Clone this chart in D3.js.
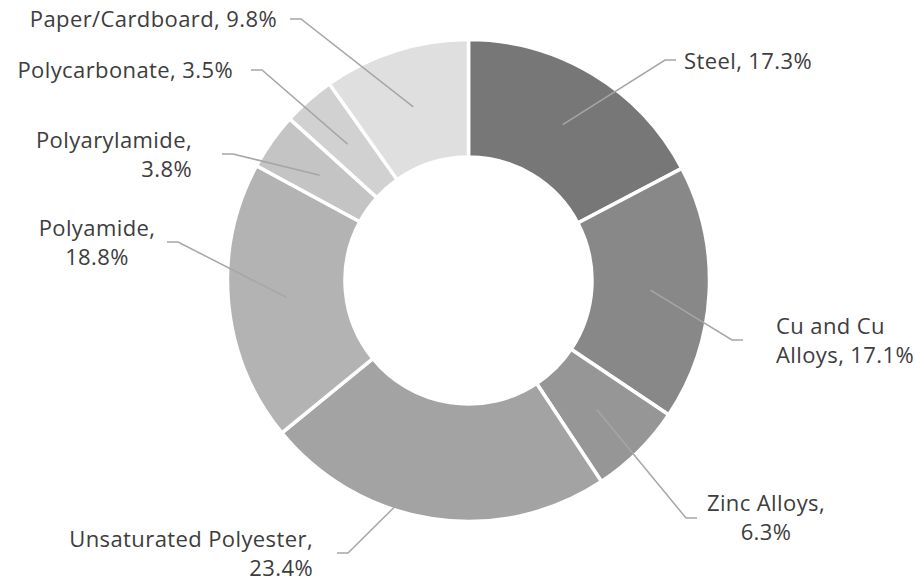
<!DOCTYPE html>
<html>
<head>
<meta charset="utf-8">
<script src="https://cdn.jsdelivr.net/npm/d3@7"></script>
<style>
  body { margin: 0; background: #fff; }
  text { font-family: "Open Sans", sans-serif; font-size: 22px; letter-spacing: 0.4px; fill: #3d3d3d; }
</style>
</head>
<body>
<div id="chart"></div>
<script>
var svgWidth = 915;
var svgHeight = 581;

// Data
var materials = ["Steel", "Cu and Cu Alloys", "Zinc Alloys", "Unsaturated Polyester",
                 "Polyamide", "Polyarylamide", "Polycarbonate", "Paper/Cardboard"];
var shares = [17.3, 17.1, 6.3, 23.4, 18.8, 3.8, 3.5, 9.8];
var labelLines = [
    ["Steel, 17.3%"],
    ["Cu and Cu", "Alloys, 17.1%"],
    ["Zinc Alloys,", "6.3%"],
    ["Unsaturated Polyester,", "23.4%"],
    ["Polyamide,", "18.8%"],
    ["Polyarylamide,", "3.8%"],
    ["Polycarbonate, 3.5%"],
    ["Paper/Cardboard, 9.8%"]
];
var sliceColors = ["#777777", "#888888", "#969696", "#a3a3a3",
                   "#b3b3b3", "#c4c4c4", "#d1d1d1", "#dfdfdf"];

// Label placement (layout only): text anchor point, anchor, leader end point, elbow direction
var labelLayout = [
    {tx: 684, ty: 69,  anchor: "start",  hx: 676, hy: 60,  dir: -1},
    {tx: 776, ty: 334, anchor: "start",  hx: 743, hy: 340, dir: -1},
    {tx: 766, ty: 511, anchor: "middle", hx: 697, hy: 518, dir: -1},
    {tx: 313, ty: 547, anchor: "end",    hx: 337, hy: 553, dir: 1},
    {tx: 97,  ty: 236, anchor: "middle", hx: 167, hy: 242, dir: 1},
    {tx: 192, ty: 148, anchor: "end",    hx: 222, hy: 154, dir: 1},
    {tx: 233, ty: 78,  anchor: "end",    hx: 251, hy: 70,  dir: 1},
    {tx: 277, ty: 27,  anchor: "end",    hx: 290, hy: 19,  dir: 1}
];

var cx = 468.5, cy = 280.5;
var outerR = 241, innerR = 123.5;
var lineHeight = 29;

var svg = d3.select("#chart")
    .append("svg")
    .attr("width", svgWidth)
    .attr("height", svgHeight);

var data = materials.map(function(m, i) {
    return {name: m, value: shares[i], color: sliceColors[i], lines: labelLines[i], layout: labelLayout[i]};
});

var pie = d3.pie()
    .value(d => d.value)
    .sort(null);

var arc = d3.arc()
    .innerRadius(innerR)
    .outerRadius(outerR);

var arcs = pie(data);

var chartGroup = svg.append("g")
    .attr("transform", `translate(${cx}, ${cy})`);

chartGroup.selectAll("path")
    .data(arcs)
    .enter()
    .append("path")
    .attr("d", arc)
    .attr("fill", d => d.data.color)
    .attr("stroke", "#fff")
    .attr("stroke-width", 3.5);

// Leader lines: from slice centroid to elbow to label
svg.append("g")
    .selectAll("polyline")
    .data(arcs)
    .enter()
    .append("polyline")
    .attr("points", function(d) {
        var c = arc.centroid(d);
        var L = d.data.layout;
        var ex = L.hx + L.dir * 11;
        return [[cx + c[0], cy + c[1]], [ex, L.hy], [L.hx, L.hy]].map(p => p.join(",")).join(" ");
    })
    .attr("fill", "none")
    .attr("stroke", "#a6a6a6")
    .attr("stroke-width", 1.5);

// Labels
var labels = svg.append("g")
    .selectAll("text")
    .data(arcs)
    .enter()
    .append("text")
    .attr("x", d => d.data.layout.tx)
    .attr("y", d => d.data.layout.ty)
    .attr("text-anchor", d => d.data.layout.anchor);

labels.selectAll("tspan")
    .data(d => d.data.lines.map(t => ({t: t, L: d.data.layout})))
    .enter()
    .append("tspan")
    .attr("x", d => d.L.tx)
    .attr("dy", (d, i) => i === 0 ? 0 : lineHeight)
    .text(d => d.t);
</script>
</body>
</html>
